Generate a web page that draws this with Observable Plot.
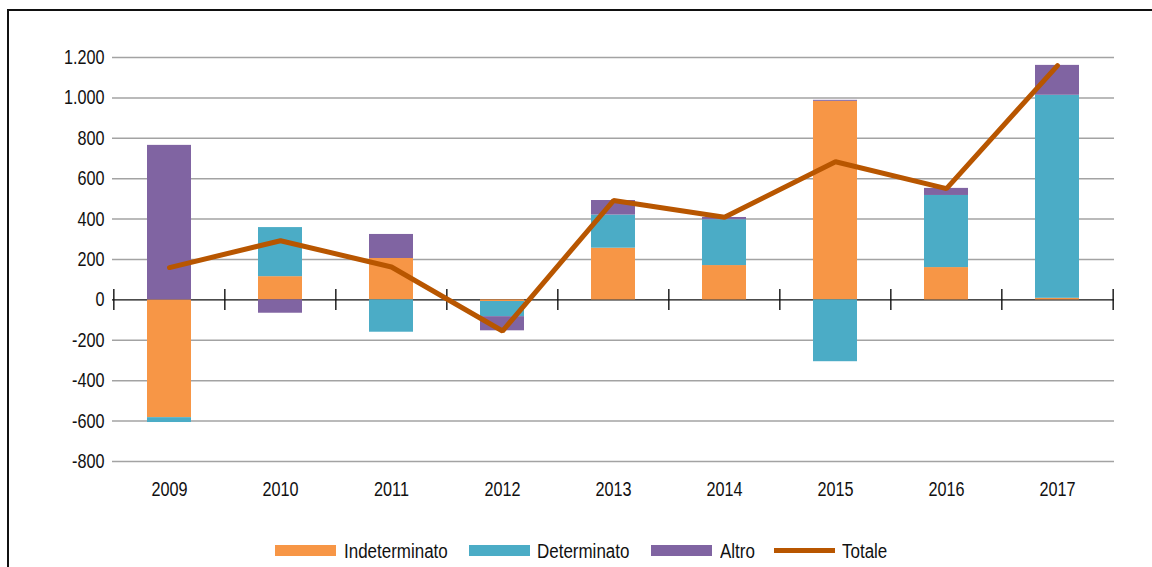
<!DOCTYPE html>
<html>
<head>
<meta charset="utf-8">
<script src="https://cdn.jsdelivr.net/npm/d3@7"></script>
<script src="https://cdn.jsdelivr.net/npm/@observablehq/plot@0.6"></script>
<style>
  html, body { margin: 0; padding: 0; background: #fff; width: 1152px; height: 567px; overflow: hidden; }
  body { position: relative; font-family: "Liberation Sans", Arial, sans-serif; }
  #frame { position: absolute; left: 7px; top: 9px; width: 1200px; height: 600px; border-top: 2px solid #111; border-left: 2px solid #111; }
  #chart { position: absolute; left: 0; top: 0; }
  #legend { position: absolute; left: 0; top: 0; width: 1152px; height: 567px; }
  .sw { position: absolute; top: 545px; width: 61px; height: 11px; }
  .ln { position: absolute; top: 548px; width: 61px; height: 5px; }
  .tx { position: absolute; top: 539px; font-size: 19.5px; line-height: 24px; color: #111; white-space: nowrap; transform: scaleX(0.87); transform-origin: 0 50%; }
</style>
</head>
<body>
<div id="frame"></div>
<div id="chart"></div>
<div id="legend"></div>
<script>
const years = ["2009", "2010", "2011", "2012", "2013", "2014", "2015", "2016", "2017"];
const indeterminato = [-583, 115, 205, -8, 256, 170, 983, 160, 8];
const determinato = [-24, 243, -160, -75, 164, 227, -306, 357, 1005];
const altro = [765, -66, 119, -70, 72, 11, 5, 35, 148];
const totale = [160, 293, 163, -154, 492, 409, 684, 551, 1160];
const seriesNames = ["Indeterminato", "Determinato", "Altro"];
const seriesColors = ["#f79646", "#4bacc6", "#8064a2"];
const lineName = "Totale";
const lineColor = "#b85600";
const yTicks = [-800, -600, -400, -200, 0, 200, 400, 600, 800, 1000, 1200];

const W = 1152, H = 510, mL = 112, mR = 38, mT = 57, mB = 49;
const step = (W - mL - mR) / years.length;

const bars = [];
[indeterminato, determinato, altro].forEach((arr, s) => {
  arr.forEach((v, i) => bars.push({year: years[i], serie: seriesNames[s], value: v}));
});
const lineData = years.map((y, i) => ({year: y, value: totale[i]}));

const itFmt = d3.formatLocale({decimal: ",", thousands: ".", grouping: [3], currency: ["€", ""], minus: "-"}).format(",");

const chart = Plot.plot({
  width: W, height: H,
  marginLeft: mL, marginRight: mR, marginTop: mT, marginBottom: mB,
  style: {fontFamily: '"Liberation Sans", Arial, sans-serif', fontSize: "20px", color: "#111", background: "transparent"},
  x: {domain: years, paddingInner: 0.6, paddingOuter: 0.3, label: null, tickSize: 0, tickPadding: 20},
  y: {domain: [-800, 1200], ticks: yTicks, tickFormat: itFmt, label: null, tickSize: 0, tickPadding: 8},
  color: {domain: seriesNames, range: seriesColors},
  marks: [
    Plot.gridY(yTicks.filter(d => d !== 0), {stroke: "#a3a3a3", strokeOpacity: 1, strokeWidth: 1.5}),
    Plot.ruleY([0], {stroke: "#111", strokeWidth: 1.4}),
    Plot.ruleX(years, {x: d => d, y1: -52, y2: 52, dx: -step / 2, stroke: "#111", strokeWidth: 1.4}),
    Plot.ruleX(years.slice(-1), {x: d => d, y1: -52, y2: 52, dx: step / 2, stroke: "#111", strokeWidth: 1.4}),
    Plot.barY(bars, {x: "year", y: "value", fill: "serie", order: seriesNames}),
    Plot.lineY(lineData, {x: "year", y: "value", stroke: lineColor, strokeWidth: 5, strokeLinejoin: "miter"})
  ]
});
document.getElementById("chart").appendChild(chart);

// condensed look for axis labels
chart.querySelectorAll("g[aria-label$='axis'] text, g[aria-label*='tick label'] text").forEach(t => {
  const len = t.getComputedTextLength();
  if (len > 0) {
    t.setAttribute("textLength", (len * 0.81).toFixed(2));
    t.setAttribute("lengthAdjust", "spacingAndGlyphs");
  }
});

const legend = document.getElementById("legend");
const legendItems = [
  {name: seriesNames[0], color: seriesColors[0], kind: "sw", sx: 275, tx: 344},
  {name: seriesNames[1], color: seriesColors[1], kind: "sw", sx: 469, tx: 537},
  {name: seriesNames[2], color: seriesColors[2], kind: "sw", sx: 651, tx: 720},
  {name: lineName, color: lineColor, kind: "ln", sx: 774, tx: 842}
];
legendItems.forEach(it => {
  const sw = document.createElement("div"); sw.className = it.kind;
  sw.style.left = it.sx + "px"; sw.style.background = it.color;
  const tx = document.createElement("div"); tx.className = "tx";
  tx.style.left = it.tx + "px"; tx.textContent = it.name;
  legend.appendChild(sw); legend.appendChild(tx);
});
</script>
</body>
</html>
